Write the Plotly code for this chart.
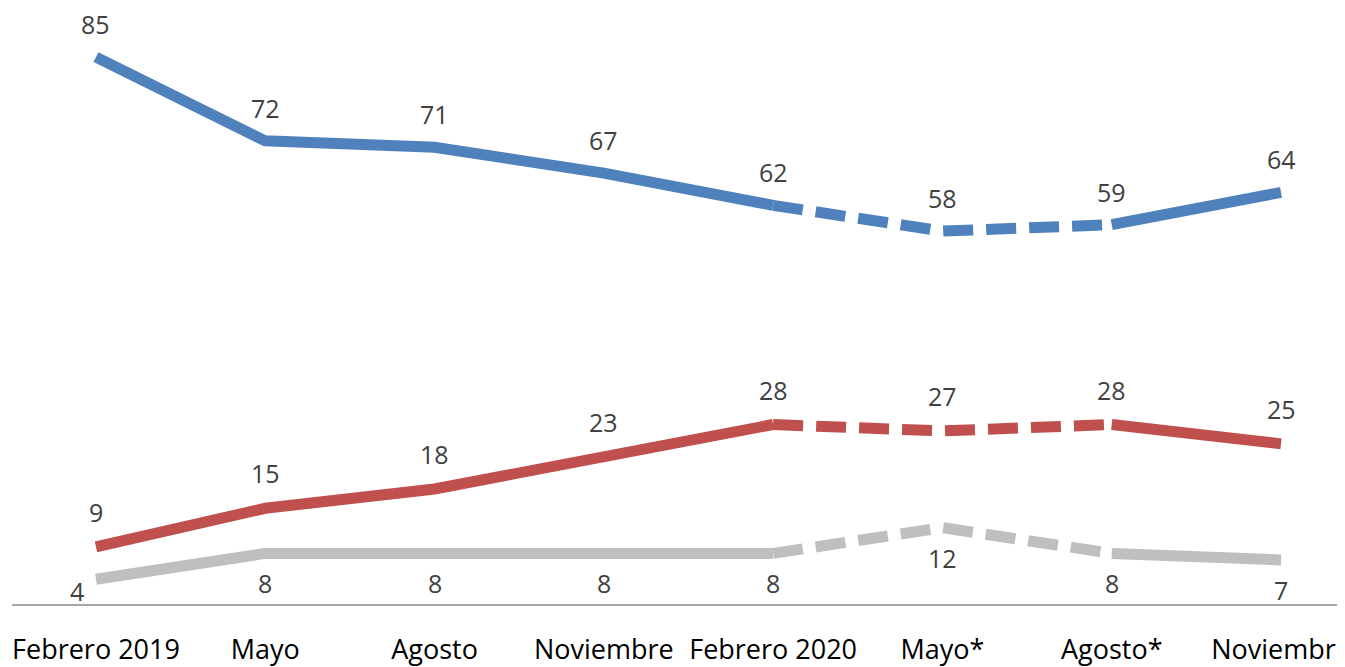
import plotly.graph_objects as go

categories = ["Febrero 2019", "Mayo", "Agosto", "Noviembre", "Febrero 2020", "Mayo*", "Agosto*", "Noviembre"]
blue_vals = [85, 72, 71, 67, 62, 58, 59, 64]
red_vals = [9, 15, 18, 23, 28, 27, 28, 25]
gray_vals = [4, 8, 8, 8, 8, 12, 8, 7]

x = list(range(len(categories)))
series = [
    (blue_vals, "#4F81BD", 33, "above"),
    (red_vals, "#C0504D", 35, "above"),
    (gray_vals, "#BFBFBF", -30, "below"),
]

fig = go.Figure()
annotations = []
for vals, color, ys, pos in series:
    fig.add_trace(go.Scatter(x=x[0:5], y=vals[0:5], mode="lines",
                             line=dict(color=color, width=11), hoverinfo="skip", showlegend=False))
    fig.add_trace(go.Scatter(x=x[4:7], y=vals[4:7], mode="lines",
                             line=dict(color=color, width=11, dash="30px,13px"), hoverinfo="skip", showlegend=False))
    fig.add_trace(go.Scatter(x=x[6:8], y=vals[6:8], mode="lines",
                             line=dict(color=color, width=11), hoverinfo="skip", showlegend=False))
    for i, v in enumerate(vals):
        xshift = 0
        yshift = ys
        if pos == "below" and i == 0:
            xshift = -19
            yshift = -12
        annotations.append(dict(x=x[i], y=v, text=str(v), showarrow=False,
                                xshift=xshift, yshift=yshift,
                                font=dict(size=25, color="#404040", family="Open Sans")))

fig.update_layout(
    width=1337, height=659,
    margin=dict(l=4, r=0, t=2, b=62, autoexpand=False),
    paper_bgcolor="white", plot_bgcolor="white",
    annotations=annotations,
    xaxis=dict(range=[-0.496, 7.378], tickmode="array", tickvals=x, ticktext=categories,
               showgrid=False, zeroline=False, showline=False, ticks="", automargin=False,
               tickfont=dict(size=27, color="#000000", family="Open Sans"),
               ticklabelstandoff=26, ticklabeloverflow="allow"),
    yaxis=dict(range=[0, 92.3], showgrid=False, zeroline=True, zerolinecolor="#A6A6A6",
               zerolinewidth=1.5, showticklabels=False, showline=False, automargin=False),
    font=dict(family="Open Sans"),
)
fig.write_html("out.html")
